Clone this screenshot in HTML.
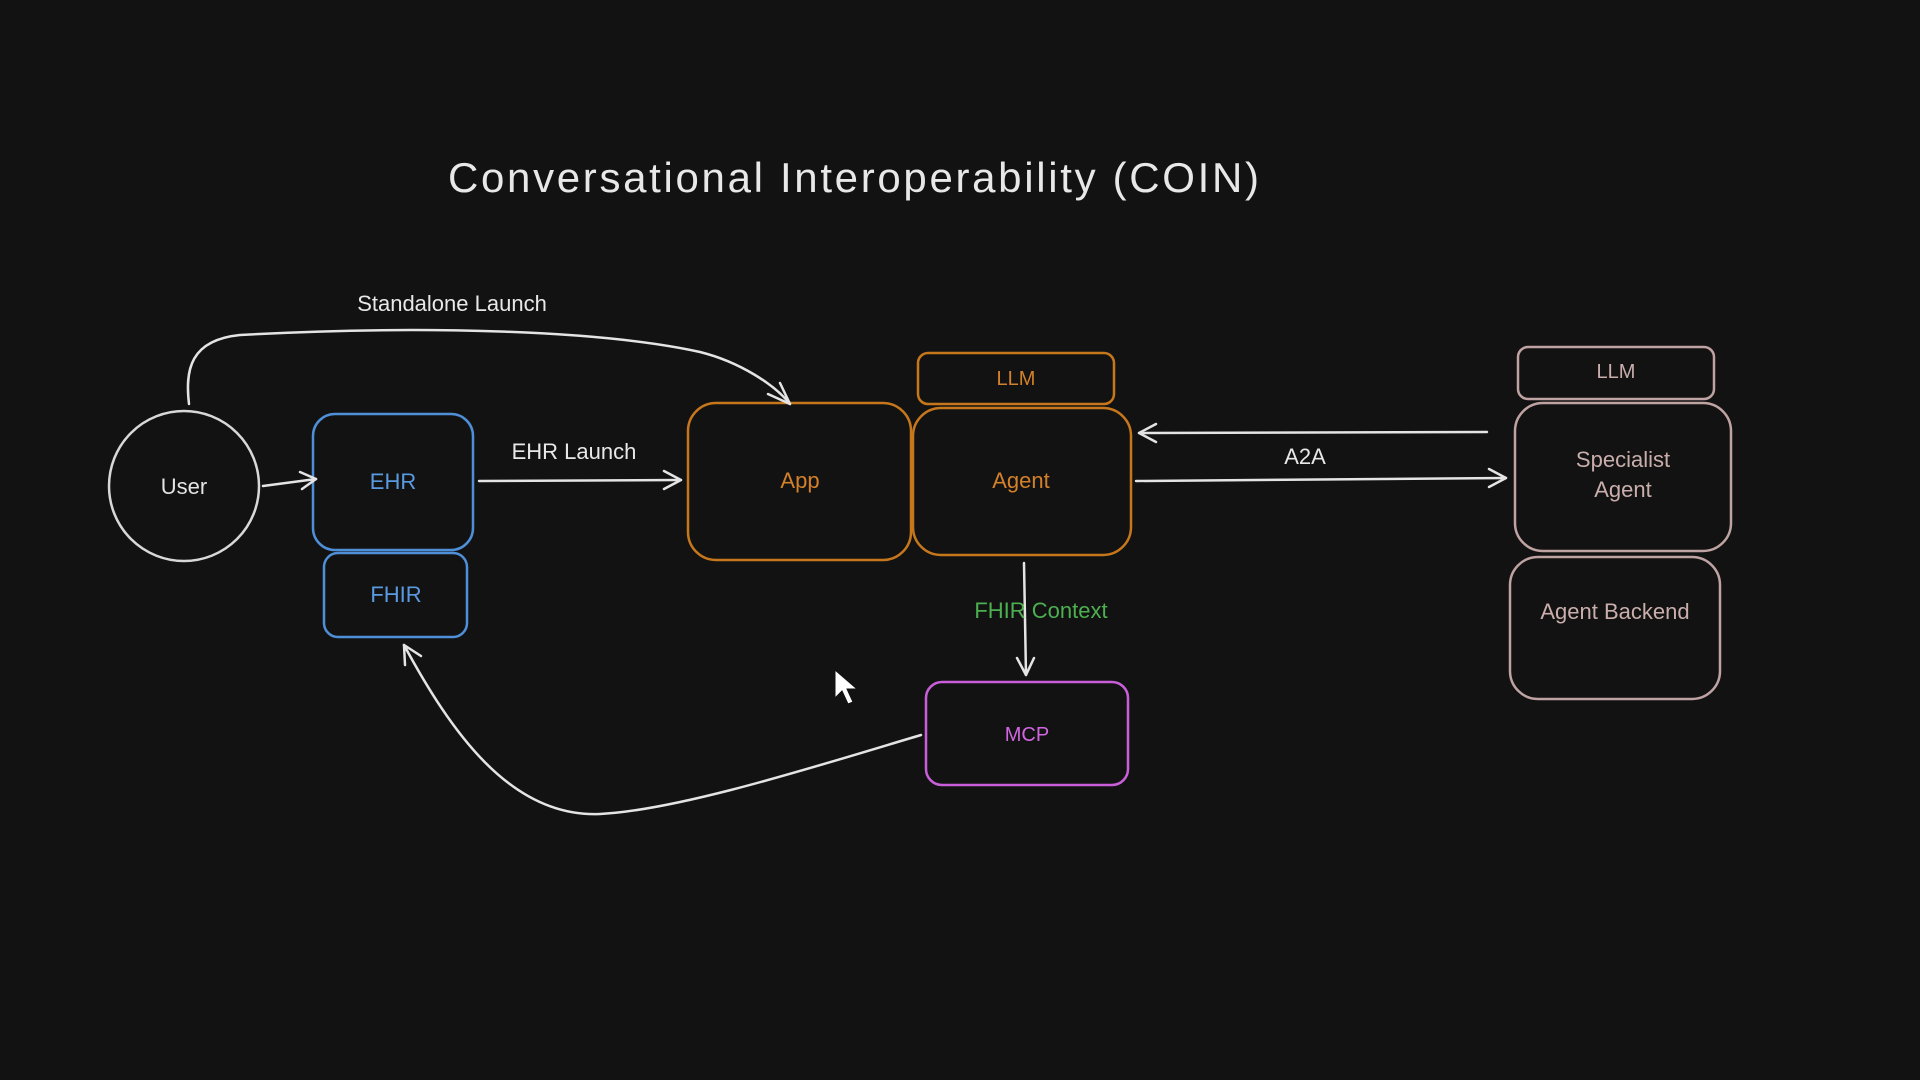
<!DOCTYPE html>
<html><head><meta charset="utf-8"><style>
html,body{margin:0;padding:0;background:#121212;}
svg{display:block}
text{font-family:"Liberation Sans",sans-serif;}
</style></head><body>
<svg width="1920" height="1080" viewBox="0 0 1920 1080" xmlns="http://www.w3.org/2000/svg">
<rect width="1920" height="1080" fill="#121212"/>
<text x="448" y="192" font-size="42" fill="#e8e8e8" textLength="811" lengthAdjust="spacing">Conversational Interoperability (COIN)</text>
<g fill="none" stroke-width="2.5" stroke-linecap="round" stroke-linejoin="round">
<circle cx="184" cy="486" r="75" stroke="#d8d8d8"/>
<rect x="313" y="414" width="160" height="136" rx="22" stroke="#4f8fd8"/>
<rect x="324" y="553" width="143" height="84" rx="14" stroke="#4f8fd8"/>
<rect x="688" y="403" width="223" height="157" rx="28" stroke="#c7771b"/>
<rect x="913" y="408" width="218" height="147" rx="28" stroke="#c7771b"/>
<rect x="918" y="353" width="196" height="51" rx="10" stroke="#c7771b"/>
<rect x="926" y="682" width="202" height="103" rx="16" stroke="#c95fd8"/>
<rect x="1518" y="347" width="196" height="52" rx="10" stroke="#bfa3a2"/>
<rect x="1515" y="403" width="216" height="148" rx="28" stroke="#bfa3a2"/>
<rect x="1510" y="557" width="210" height="142" rx="28" stroke="#bfa3a2"/>
<g stroke="#e4e4e4">
<path d="M263 486 L316 479"/><path d="M300 472 L316 479 L302 489"/>
<path d="M479 481 L681 480"/><path d="M664 471 L681 480 L664 489"/>
<path d="M189 404 C185 370 190 340 240 335 C420 325 600 330 700 352 C740 362 775 385 790 404"/><path d="M768 394 L790 404 L780 383"/>
<path d="M1487 432 L1139 433"/><path d="M1156 424 L1139 433 L1156 442"/>
<path d="M1136 481 L1506 478"/><path d="M1489 469 L1506 478 L1489 487"/>
<path d="M1024 563 L1026 675"/><path d="M1017 658 L1026 675 L1034 658"/>
<path d="M921 735 C820 765 680 810 600 814 C510 818 450 730 404 645"/><path d="M405 665 L404 645 L421 656"/>
</g>
</g>
<g font-size="22" text-anchor="middle">
<text x="184" y="494" fill="#e4e4e4">User</text>
<text x="393" y="489" fill="#5a9ae0">EHR</text>
<text x="396" y="602" fill="#5a9ae0">FHIR</text>
<text x="800" y="488" fill="#d3802a">App</text>
<text x="1021" y="488" fill="#d3802a">Agent</text>
<text x="1016" y="385" fill="#d3802a" font-size="20">LLM</text>
<text x="1027" y="741" fill="#d066e0" font-size="20">MCP</text>
<text x="1616" y="378" fill="#c9aeac" font-size="20">LLM</text>
<text x="1623" y="467" fill="#c9aeac">Specialist</text>
<text x="1623" y="497" fill="#c9aeac">Agent</text>
<text x="1615" y="619" fill="#c9aeac">Agent Backend</text>
<text x="452" y="311" fill="#e8e8e8">Standalone Launch</text>
<text x="574" y="459" fill="#e8e8e8">EHR Launch</text>
<text x="1305" y="464" fill="#e8e8e8">A2A</text>
<text x="1041" y="618" fill="#4caf50">FHIR Context</text>
</g>
<path d="M835 670 L835 698 L842 691 L848 704 L853 702 L847 689 L857 689 Z" fill="#ffffff" stroke="#111" stroke-width="1"/>
</svg>
</body></html>
